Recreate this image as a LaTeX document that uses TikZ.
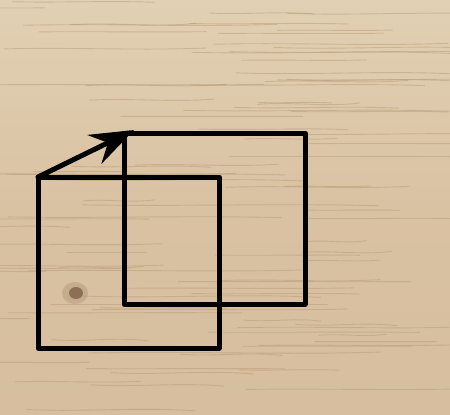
\documentclass[tikz,border=0pt]{standalone}
\usetikzlibrary{arrows.meta}
\definecolor{woodA}{HTML}{D9C2A2}
\definecolor{woodB}{HTML}{D6BE9E}
\definecolor{woodC}{HTML}{E2D0B4}
\definecolor{grain}{HTML}{B39670}
\definecolor{knot}{HTML}{7A5C40}
\tikzset{
  frame/.style={line width=5pt, line join=round, line cap=round, draw=black},
  grainline/.style={draw=grain, line width=0.9pt, opacity=0.45},
}
\begin{document}
\begin{tikzpicture}[x=1pt,y=-1pt]
\useasboundingbox (0,0) rectangle (450,415);
% wood background
\shade[top color=woodC, bottom color=woodB, middle color=woodA] (0,0) rectangle (450,415);
\pgfmathsetseed{7}
\foreach \i in {1,...,90}{
  \pgfmathsetmacro{\yy}{rnd*415}
  \pgfmathsetmacro{\xs}{rnd*380-60}
  \pgfmathsetmacro{\ln}{60+rnd*240}
  \pgfmathsetmacro{\dy}{rnd*6-3}
  \draw[grainline] (\xs,\yy) .. controls (\xs+\ln/3,\yy+\dy) and (\xs+2*\ln/3,\yy-\dy) .. (\xs+\ln,\yy+\dy/2);
}
\fill[knot!50!woodA, opacity=0.4] (75,293) ellipse (13pt and 11pt);
\fill[knot, opacity=0.75] (76,293) ellipse (7pt and 6pt);
% coordinates
\coordinate (fa) at (38,177);
\coordinate (fb) at (219,177);
\coordinate (fc) at (219,348);
\coordinate (fd) at (38,348);
\coordinate (ba) at (124,133);
\coordinate (bb) at (305,133);
\coordinate (bc) at (305,304);
\coordinate (bd) at (124,304);
\coordinate (tip) at (134,130);
% squares
\draw[frame] (ba) -- (bb) -- (bc) -- (bd) -- cycle;
\draw[frame] (fa) -- (fb) -- (fc) -- (fd) -- cycle;
% arrow
\draw[line width=5pt, line cap=round, -{Stealth[length=44pt, width=32pt, inset=15pt]}] (fa) -- (tip);
\end{tikzpicture}
\end{document}
